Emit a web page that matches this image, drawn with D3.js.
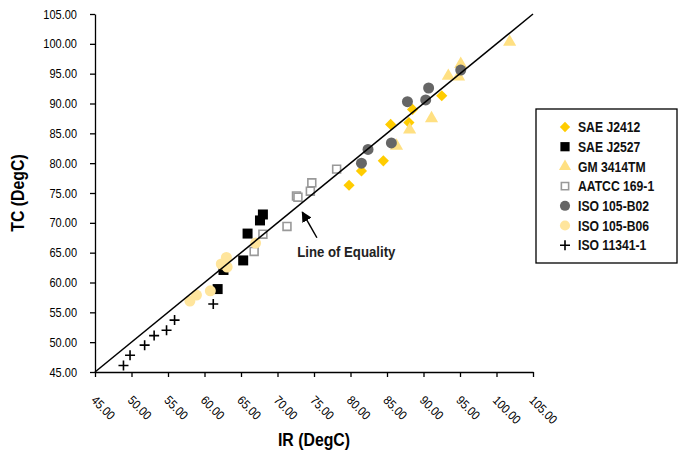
<!DOCTYPE html>
<html>
<head>
<meta charset="utf-8">
<script src="https://cdn.jsdelivr.net/npm/d3@7"></script>
<style>
  body { margin: 0; background: #fff; }
  text { font-family: "Liberation Sans", Arial, sans-serif; }
  .axis path, .axis line { stroke: #000; stroke-width: 1.3; }
  .axis text { font-size: 12.5px; fill: #000; }
</style>
</head>
<body>
<div id="chart"></div>
<script>
// series values, [IR, TC]
var saeJ2412 = [[79.8, 76.3], [81.5, 78.7], [84.5, 80.4], [85.5, 86.5], [88.0, 86.8], [88.5, 89.0], [92.5, 91.3]];
var saeJ2527 = [[68.0, 71.4], [67.6, 70.4], [65.9, 68.2], [65.3, 63.7], [62.6, 62.1], [61.8, 58.9]];
var gm3414 = [[101.8, 100.3], [95.1, 96.6], [93.4, 94.6], [94.8, 94.5], [91.1, 87.5], [88.1, 85.6], [86.3, 82.9]];
var aatcc = [[78.1, 79.0], [74.7, 76.7], [74.5, 75.3], [72.6, 74.5], [72.8, 74.3], [71.3, 69.4], [68.0, 68.1], [66.8, 65.2]];
var isoB02 = [[95.1, 95.6], [90.7, 92.6], [87.8, 90.3], [90.3, 90.6], [85.6, 83.4], [82.4, 82.3], [81.5, 80.0]];
var isoB06 = [[67.0, 66.6], [63.0, 64.2], [62.3, 63.1], [63.1, 62.6], [60.8, 58.6], [58.9, 57.9], [58.0, 56.9]];
var iso11341 = [[48.9, 46.1], [49.8, 47.8], [51.8, 49.5], [53.1, 51.1], [54.8, 52.0], [55.9, 53.7], [61.2, 56.4]];

var seriesNames = ["SAE J2412", "SAE J2527", "GM 3414TM", "AATCC 169-1", "ISO 105-B02", "ISO 105-B06", "ISO 11341-1"];
var ticks = [45, 50, 55, 60, 65, 70, 75, 80, 85, 90, 95, 100, 105];
var equality = [45, 105];

var margin = {top: 14, right: 145, bottom: 83, left: 95},
    width = 678 - margin.left - margin.right,
    height = 455 - margin.top - margin.bottom;

var svg = d3.select("#chart").append("svg")
    .attr("width", 678)
    .attr("height", 455);

var g = svg.append("g")
    .attr("transform", "translate(" + margin.left + "," + margin.top + ")");

var x = d3.scaleLinear().domain([45, 105]).range([0, width]);
var y = d3.scaleLinear().domain([45, 105]).range([height, 0]);

var fmt = d3.format(".2f");

var styles = [
  {shape: d3.symbolDiamond2, size: 80, fill: "#FFCC00", stroke: "none"},
  {shape: d3.symbolSquare, size: 100, fill: "#000000", stroke: "none"},
  {shape: d3.symbolTriangle, size: 75, fill: "#FFE082", stroke: "none"},
  {shape: d3.symbolSquare, size: 62, fill: "#ffffff", stroke: "#999999"},
  {shape: d3.symbolCircle, size: 95, fill: "#666666", stroke: "none"},
  {shape: d3.symbolCircle, size: 95, fill: "#FFE59C", stroke: "none"},
  {shape: d3.symbolCross, size: 0, fill: "none", stroke: "#000000"}
];
var allSeries = [saeJ2412, saeJ2527, gm3414, aatcc, isoB02, isoB06, iso11341];

function drawMark(sel, s) {
  if (s.shape === d3.symbolCross) {
    sel.append("path")
      .attr("d", "M-5,0H5M0,-5V5")
      .attr("stroke", "#000")
      .attr("stroke-width", 1.6)
      .attr("fill", "none");
  } else {
    sel.append("path")
      .attr("d", d3.symbol().type(s.shape).size(s.size)())
      .attr("fill", s.fill)
      .attr("stroke", s.stroke)
      .attr("stroke-width", s.stroke === "none" ? 0 : 1.6);
  }
}

// no narrow font installed, so squeeze Liberation Sans sideways
function narrow(tx, ty, extra, sx) {
  return "translate(" + tx + "," + ty + ")" + (extra || "") + " scale(" + sx + ",1)";
}

// axes
g.append("g")
    .attr("class", "axis")
    .call(d3.axisLeft(y).tickValues(ticks).tickFormat(fmt).tickSize(5).tickSizeOuter(0))
    .selectAll("text")
      .attr("x", 0)
      .attr("transform", narrow(-18, 0, "", 0.88));

var xa = g.append("g")
    .attr("class", "axis")
    .attr("transform", "translate(0," + height + ")")
    .call(d3.axisBottom(x).tickValues(ticks).tickFormat(fmt).tickSize(5).tickSizeOuter(0));
xa.selectAll("text")
    .attr("text-anchor", "start")
    .attr("dy", "0.35em")
    .attr("transform", narrow(-2, 26, " rotate(45)", 0.88))
    .attr("y", 0).attr("x", 0);

// points
allSeries.forEach(function(data, i) {
  g.append("g").selectAll("g")
    .data(data)
    .enter().append("g")
      .attr("transform", function(d) { return "translate(" + x(d[0]) + "," + y(d[1]) + ")"; })
      .each(function() { drawMark(d3.select(this), styles[i]); });
});

// line of equality
g.append("line")
    .attr("x1", x(equality[0])).attr("y1", y(equality[0]))
    .attr("x2", x(equality[1])).attr("y2", y(equality[1]))
    .attr("stroke", "#000")
    .attr("stroke-width", 1.5);

// annotation
svg.append("defs").append("marker")
    .attr("id", "arrow")
    .attr("viewBox", "0 0 10 10")
    .attr("refX", 9).attr("refY", 5)
    .attr("markerWidth", 7).attr("markerHeight", 7)
    .attr("orient", "auto")
  .append("path")
    .attr("d", "M0,0L10,5L0,10z")
    .attr("fill", "#000");

g.append("line")
    .attr("x1", x(75.4)).attr("y1", y(67.5))
    .attr("x2", x(73.4)).attr("y2", y(71.8))
    .attr("stroke", "#000")
    .attr("stroke-width", 1.5)
    .attr("marker-end", "url(#arrow)");

g.append("text")
    .attr("transform", narrow(x(72.7), y(64.3), "", 0.88))
    .attr("font-size", "15px")
    .attr("font-weight", "bold")
    .attr("fill", "#222")
    .text("Line of Equality");

// axis titles
svg.append("text")
    .attr("transform", narrow(margin.left + width / 2, 446, "", 0.88))
    .attr("text-anchor", "middle")
    .attr("font-size", "18px")
    .attr("font-weight", "bold")
    .text("IR (DegC)");

svg.append("text")
    .attr("transform", "translate(24," + (margin.top + height / 2) + ") rotate(-90) scale(0.88,1)")
    .attr("text-anchor", "middle")
    .attr("font-size", "18px")
    .attr("font-weight", "bold")
    .text("TC (DegC)");

// legend
var lg = svg.append("g").attr("transform", "translate(536,109)");
lg.append("rect")
    .attr("width", 141).attr("height", 154)
    .attr("fill", "#fff")
    .attr("stroke", "#000")
    .attr("stroke-width", 1.3);

var item = lg.selectAll(".item")
    .data(seriesNames)
    .enter().append("g")
      .attr("class", "item")
      .attr("transform", function(d, i) { return "translate(29," + (18 + i * 19.7) + ")"; });

item.each(function(d, i) {
  var s = Object.assign({}, styles[i]);
  if (s.size) s.size = s.size * 0.85;
  drawMark(d3.select(this), s);
});

item.append("text")
    .attr("transform", narrow(13, 0, "", 0.84))
    .attr("dy", "0.36em")
    .attr("font-size", "14.5px")
    .attr("font-weight", "bold")
    .attr("fill", "#111")
    .text(function(d) { return d; });
</script>
</body>
</html>
